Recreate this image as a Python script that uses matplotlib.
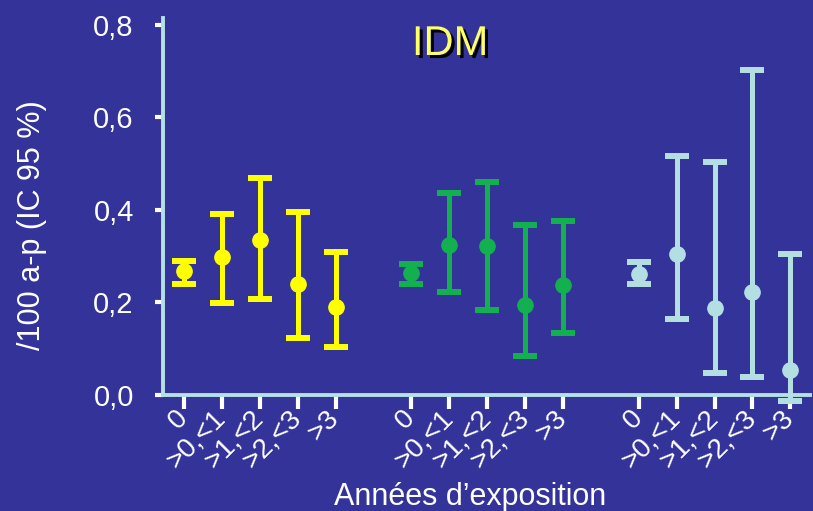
import numpy as np
import matplotlib
matplotlib.use("Agg")
import matplotlib.pyplot as plt
import matplotlib.patheffects as pe

plt.rcParams['font.family'] = ['Liberation Sans', 'DejaVu Sans']

# data: incidence /100 a-p with 95% CI, three groups
cats = ["0", ">0,<1", ">1,<2", ">2,<3", ">3"]
pos1 = [0, 1, 2, 3, 4]
pos2 = [6, 7, 8, 9, 10]
pos3 = [12, 13, 14, 15, 16]

est1 = [0.267, 0.299, 0.335, 0.240, 0.190]
low1 = [0.241, 0.198, 0.208, 0.123, 0.104]
high1 = [0.290, 0.391, 0.469, 0.396, 0.309]

est2 = [0.263, 0.324, 0.323, 0.194, 0.237]
low2 = [0.239, 0.223, 0.184, 0.085, 0.135]
high2 = [0.283, 0.436, 0.460, 0.368, 0.376]

est3 = [0.261, 0.305, 0.187, 0.222, 0.053]
low3 = [0.240, 0.164, 0.048, 0.039, -0.014]
high3 = [0.288, 0.516, 0.504, 0.702, 0.304]

bg = '#333399'
spine_col = '#b5e0e4'

fig = plt.figure(figsize=(8.13, 5.11), dpi=100, facecolor=bg)
ax = fig.add_axes([163/813, 1-395/511, 647/813, 377/511], facecolor=bg)

groups = [(pos1, est1, low1, high1, '#ffff00'),
          (pos2, est2, low2, high2, '#12b04e'),
          (pos3, est3, low3, high3, '#b3dfe3')]
for p, e, lo, hi, c in groups:
    e = np.array(e); lo = np.array(lo); hi = np.array(hi)
    eb = ax.errorbar(p, e, yerr=[e - lo, hi - e], fmt='o', color=c,
                     markersize=11, elinewidth=3.6, capsize=8.6, capthick=4.3,
                     zorder=2)
    for art in eb.lines[1] + eb.lines[2]:
        art.set_clip_on(False)
    eb.lines[0].set_clip_on(False)

ax.set_xlim(-0.554, 16.52)
ax.set_ylim(0, 0.815)

ax.set_xticks(pos1 + pos2 + pos3)
ax.set_xticklabels(cats * 3, rotation=45, ha='right', va='center',
                   rotation_mode='anchor', fontsize=20, color='white')
ax.set_yticks([0, 0.2, 0.4, 0.6, 0.8])
ax.set_yticklabels(["0,0", "0,2", "0,4", "0,6", "0,8"], fontsize=21,
                   color='white')

ax.tick_params(axis='x', direction='out', length=10, width=3, color='white',
               pad=4)
ax.tick_params(axis='y', direction='out', length=6, width=3, color='white',
               pad=15)

for s in ['top', 'right']:
    ax.spines[s].set_visible(False)
for s in ['left', 'bottom']:
    ax.spines[s].set_color(spine_col)
    ax.spines[s].set_linewidth(2.8)

ax.set_ylabel("/100 a-p (IC 95 %)", fontsize=22, color='white', va='center')
ax.yaxis.set_label_coords(-0.202, 0.451)
fig.text(470/813, 1-497/511, "Années d’exposition", fontsize=22,
         color='white', ha='center', va='center')

fig.text(450/813, 1-44/511, "IDM", fontsize=30, color='#ffff66',
         ha='center', va='center',
         path_effects=[pe.withSimplePatchShadow(offset=(2.2, -2.2),
                                                 shadow_rgbFace='black',
                                                 alpha=1)])

fig.savefig("out.png", dpi=100, facecolor=bg)
